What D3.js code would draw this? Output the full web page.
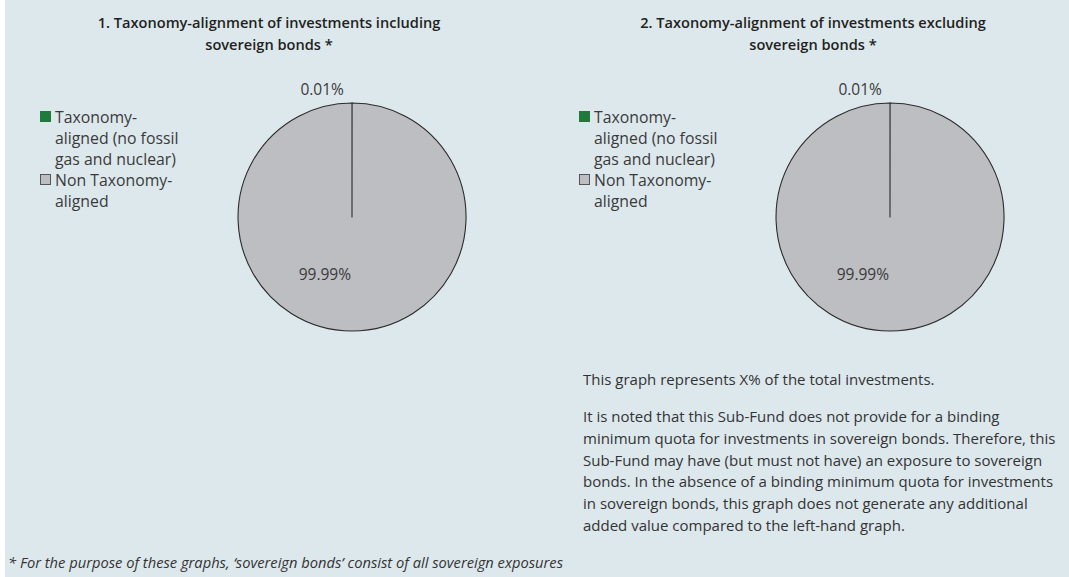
<!DOCTYPE html>
<html>
<head>
<meta charset="utf-8">
<script src="https://cdn.jsdelivr.net/npm/d3@7"></script>
<style>
  body { margin: 0; background: #fff; }
  svg { display: block; font-family: "Open Sans", "Noto Sans", sans-serif; }
</style>
</head>
<body>
<svg id="chart" width="1069" height="577"></svg>
<script>
// data
var categories = ["Taxonomy-aligned (no fossil gas and nuclear)", "Non Taxonomy-aligned"];
var legendLines = [["Taxonomy-", "aligned (no fossil", "gas and nuclear)"], ["Non Taxonomy-", "aligned"]];
var valuesIncl = [0.01, 99.99];
var valuesExcl = [0.01, 99.99];
var titles = [
  ["1. Taxonomy-alignment of investments including", "sovereign bonds *"],
  ["2. Taxonomy-alignment of investments excluding", "sovereign bonds *"]
];
var noteLine = "This graph represents X% of the total investments.";
var noteText = [
  "It is noted that this Sub-Fund does not provide for a binding",
  "minimum quota for investments in sovereign bonds. Therefore, this",
  "Sub-Fund may have (but must not have) an exposure to sovereign",
  "bonds. In the absence of a binding minimum quota for investments",
  "in sovereign bonds, this graph does not generate any additional",
  "added value compared to the left-hand graph."
];
var footnote = "* For the purpose of these graphs, \u2018sovereign bonds\u2019 consist of all sovereign exposures";

var colors = ["#1f7a3c", "#bdbec2"];

var svg = d3.select("#chart"),
    width = +svg.attr("width"),
    height = +svg.attr("height");

svg.append("rect").attr("x", 5).attr("y", 0)
  .attr("width", width - 5).attr("height", height)
  .attr("fill", "#dde8ed");

var radius = 114;
var pie = d3.pie().sort(null).value(function(d) { return d; });
var arc = d3.arc().innerRadius(0).outerRadius(radius);

function drawPanel(values, title, titleX, legendX, cx, cy) {
  var t = svg.append("text")
    .attr("text-anchor", "middle")
    .attr("font-size", 14.6)
    .attr("font-weight", 600)
    .attr("fill", "#231f20");
  title.forEach(function(line, i) {
    t.append("tspan").attr("x", titleX).attr("y", 28 + i * 22).text(line);
  });

  // legend
  var lg = svg.append("g").attr("transform", "translate(" + legendX + ",109)");
  var yy = 0;
  legendLines.forEach(function(lines, i) {
    lg.append("rect")
      .attr("x", 0.5).attr("y", yy + 2.5)
      .attr("width", 10).attr("height", 10)
      .attr("fill", colors[i])
      .attr("stroke", i === 0 ? colors[0] : "#555")
      .attr("stroke-width", 1);
    var tx = lg.append("text").attr("font-size", 15.8).attr("fill", "#3a3a3a");
    lines.forEach(function(l, j) {
      tx.append("tspan").attr("x", 15).attr("y", yy + 14 + j * 21).text(l);
    });
    yy += lines.length * 21;
  });

  var g = svg.append("g").attr("transform", "translate(" + cx + "," + cy + ")");
  var arcs = pie(values);
  g.selectAll("path.slice")
    .data(arcs)
    .enter().append("path")
    .attr("class", "slice")
    .attr("fill", function(d, i) { return colors[i]; })
    .attr("stroke", "#2b2b2b")
    .attr("stroke-width", 1.1)
    .attr("stroke-linejoin", "round")
    .attr("d", arc);

  // data labels
  var labelPos = [
    { r: 131, a: -0.23 },   // small slice, outside above
    { r: 64, a: 3.58 }      // big slice, inside lower left
  ];
  g.selectAll("text.lbl")
    .data(arcs)
    .enter().append("text")
    .attr("class", "lbl")
    .attr("text-anchor", "middle")
    .attr("dy", "0.35em")
    .attr("font-size", 15.5)
    .attr("fill", "#3a3a3a")
    .attr("x", function(d, i) { return labelPos[i].r * Math.sin(labelPos[i].a); })
    .attr("y", function(d, i) { return -labelPos[i].r * Math.cos(labelPos[i].a); })
    .text(function(d) { return d3.format(".2f")(d.data) + "%"; });
}

drawPanel(valuesIncl, titles[0], 269, 40, 352, 217);
drawPanel(valuesExcl, titles[1], 813, 579, 890, 217);

svg.append("text")
  .attr("x", 583).attr("y", 385)
  .attr("font-size", 15).attr("fill", "#333")
  .text(noteLine);

var nt = svg.append("text").attr("font-size", 15).attr("fill", "#333");
noteText.forEach(function(l, i) {
  nt.append("tspan").attr("x", 583).attr("y", 422 + i * 21.8).text(l);
});

svg.append("text")
  .attr("x", 8).attr("y", 568)
  .attr("font-size", 14.7).attr("font-style", "italic").attr("fill", "#333")
  .text(footnote);
</script>
</body>
</html>
